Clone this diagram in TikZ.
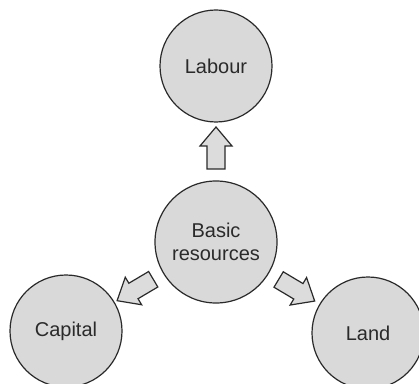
\documentclass[tikz,border=0pt]{standalone}
\usepackage{fontspec}
\setmainfont{Liberation Sans}
\usetikzlibrary{calc}
\definecolor{ink}{HTML}{2A2A2A}
\definecolor{disc}{HTML}{D9D9D9}
\definecolor{arrowfill}{HTML}{DCDCDC}
\tikzset{
  res/.style={circle, draw=ink, line width=1.2pt, fill=disc, minimum size=#1, inner sep=0pt,
    text=ink, align=center, font=\fontsize{20}{23}\selectfont},
  blockarr/.style={draw=ink, line width=1.2pt, fill=arrowfill, line join=miter},
}
% #1 from node, #2 to node, #3 tag
\newcommand\blockarrow[3]{%
  \coordinate (T#3) at ($(#1)!73pt!(#2)$);
  \coordinate (H#3) at ($(#1)!96pt!(#2)$);
  \coordinate (P#3) at ($(#1)!115pt!(#2)$);
  \draw[blockarr] ($(T#3)!9pt!90:(P#3)$) -- ($(H#3)!9pt!90:(P#3)$) -- ($(H#3)!16pt!90:(P#3)$)
    -- (P#3) -- ($(H#3)!16pt!-90:(P#3)$) -- ($(H#3)!9pt!-90:(P#3)$) -- ($(T#3)!9pt!-90:(P#3)$) -- cycle;
}
\begin{document}
\begin{tikzpicture}[x=1pt,y=1pt]
  \useasboundingbox (0,0) rectangle (419,383);
  \clip (0,0) rectangle (419,383);
  \fill[white] (0,0) rectangle (419,383);
  \node[res=112pt] (labour) at (216,317) {Labour};
  \node[res=122pt] (basic) at (216,141) {Basic\\resources};
  \node[res=112pt] (capital) at (66,52) {Capital};
  \node[res=112pt] (land) at (368,50) {Land};
  \blockarrow{basic}{labour}{a}
  \blockarrow{basic}{capital}{b}
  \blockarrow{basic}{land}{c}
\end{tikzpicture}
\end{document}
